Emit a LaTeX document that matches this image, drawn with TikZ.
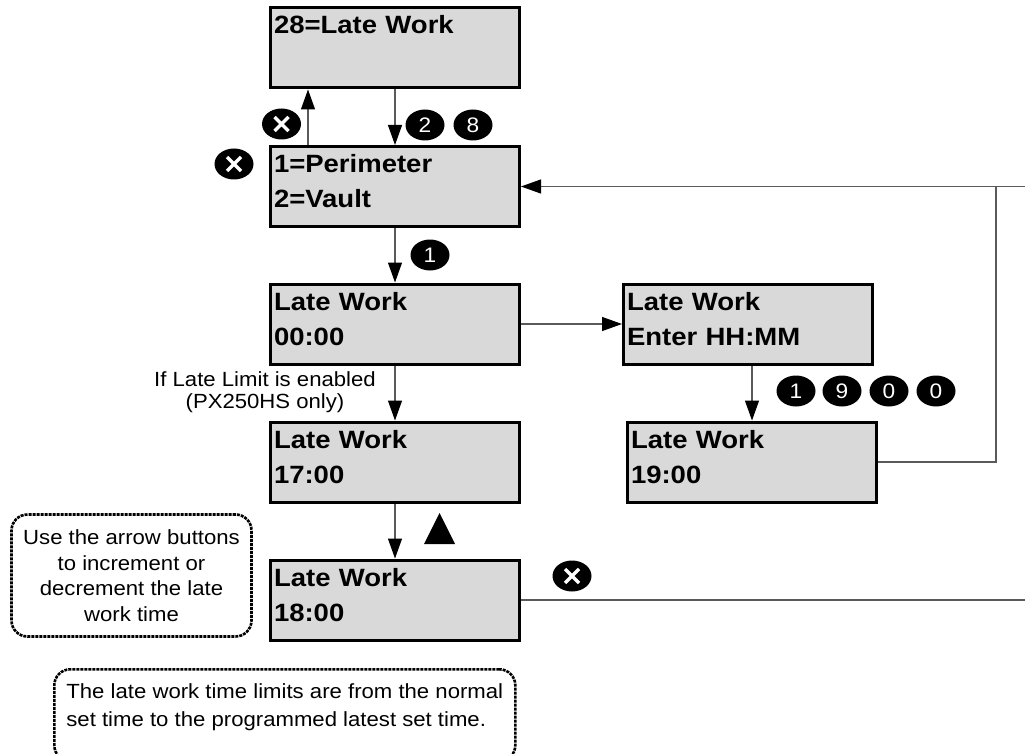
\documentclass[tikz,border=0pt]{standalone}
\usepackage{fontspec}
\setmainfont{Liberation Sans}[FakeStretch=1.08]
\newfontfamily\boldf{Liberation Sans}[FakeStretch=1.1]
\usetikzlibrary{shapes.geometric,arrows.meta}
\definecolor{boxgray}{RGB}{217,217,217}
\definecolor{linegray}{RGB}{90,90,90}
\begin{document}
\begin{tikzpicture}[x=1pt,y=-1pt,
  screen/.style={draw=black, line width=3pt, fill=boxgray, rectangle,
    minimum width=249pt, minimum height=77pt, inner ysep=0pt, inner xsep=3.5pt,
    text width=242pt, align=left, font=\boldf\bfseries\fontsize{25}{35}\selectfont},
  conn/.style={draw=linegray, line width=1.2pt},
  arr/.style={conn, -{Triangle[length=20pt,width=14pt,color=black]}},
  btn/.style={ellipse, fill=black, text=white, minimum width=39pt, minimum height=31pt,
    inner sep=0pt, font=\fontsize{21}{21}\selectfont},
  xbtn/.style={btn, path picture={\draw[white, line width=3.2pt]
    ([shift={(-7pt,-7pt)}]path picture bounding box.center) -- ++(14pt,14pt)
    ([shift={(-7pt,7pt)}]path picture bounding box.center) -- ++(14pt,-14pt);}},
  note/.style={draw=black, line width=2.6pt, dash pattern=on 3pt off 1pt,
    rounded corners=16pt},
]
\useasboundingbox (0,0) rectangle (1025,754);

% screens
\node[screen] (b1) at (395,48) {\rule{0pt}{26pt}28=Late Work\\\rule[-19pt]{0pt}{0pt}};
\node[screen] (b2) at (395,186.5) {\rule{0pt}{26pt}1=Perimeter\\2=Vault\rule[-19pt]{0pt}{0pt}};
\node[screen] (b3) at (395,324) {\rule{0pt}{26pt}Late Work\\00:00\rule[-19pt]{0pt}{0pt}};
\node[screen] (b4) at (395,462) {\rule{0pt}{26pt}Late Work\\17:00\rule[-19pt]{0pt}{0pt}};
\node[screen] (b5) at (395,600) {\rule{0pt}{26pt}Late Work\\18:00\rule[-19pt]{0pt}{0pt}};
\node[screen] (b6) at (748,324) {\rule{0pt}{26pt}Late Work\\Enter HH:MM\rule[-19pt]{0pt}{0pt}};
\node[screen] (b7) at (752,462) {\rule{0pt}{26pt}Late Work\\19:00\rule[-19pt]{0pt}{0pt}};

% connectors
\draw[arr] (b1.south) -- (b2.north);
\draw[arr] ([xshift=-87pt]b2.north) -- ([xshift=-87pt]b1.south);
\draw[arr] (b2.south) -- (b3.north);
\draw[arr] (b3.south) -- (b4.north);
\draw[arr] (b4.south) -- (b5.north);
\draw[arr] (b3.east) -- (b6.west);
\draw[arr] (b6.south -| b7.north) -- (b7.north);
\coordinate (r1) at (996,186.5);
\coordinate (r2) at (1025,186.5);
\coordinate (r3) at (1025,600);
\draw[conn] (b7.east) -| (r1);
\draw[arr] (r2) -- (b2.east);
\draw[conn] (b5.east) -- (r3);

% buttons
\node[xbtn] (x1) at (281.5,124) {};
\node[btn] (k2) at (425,125) {2};
\node[btn] (k8) at (473,125) {8};
\node[xbtn] (x2) at (234,164) {};
\node[btn] (k1) at (430,255) {1};
\node[btn] (d1) at (796,391) {1};
\node[btn] (d9) at (842,391) {9};
\node[btn] (d0a) at (889,391) {0};
\node[btn] (d0b) at (936,391) {0};
\node[xbtn] (x3) at (572,576) {};
\fill (424,544) -- (455,544) -- (439.5,513) -- cycle;

% labels and notes
\node[font=\fontsize{20.5}{22}\selectfont, align=center] (lim) at (265,392)
  {If Late Limit is enabled\\(PX250HS only)};
\node[note, minimum width=240pt, minimum height=122pt, align=center,
  font=\fontsize{20.5}{25.5}\selectfont] (n1) at (131.5,575.5)
  {Use the arrow buttons\\to increment or\\decrement the late\\work time};
\node[note, anchor=north west, minimum width=461pt, minimum height=92pt,
  align=left, inner xsep=6pt, inner ysep=0pt, font=\fontsize{20.5}{28}\selectfont] (n2) at (53,668)
  {\rule{0pt}{16pt}The late work time limits are from the normal\\set time to the programmed latest set time.\rule[-22pt]{0pt}{0pt}};
\end{tikzpicture}
\end{document}
